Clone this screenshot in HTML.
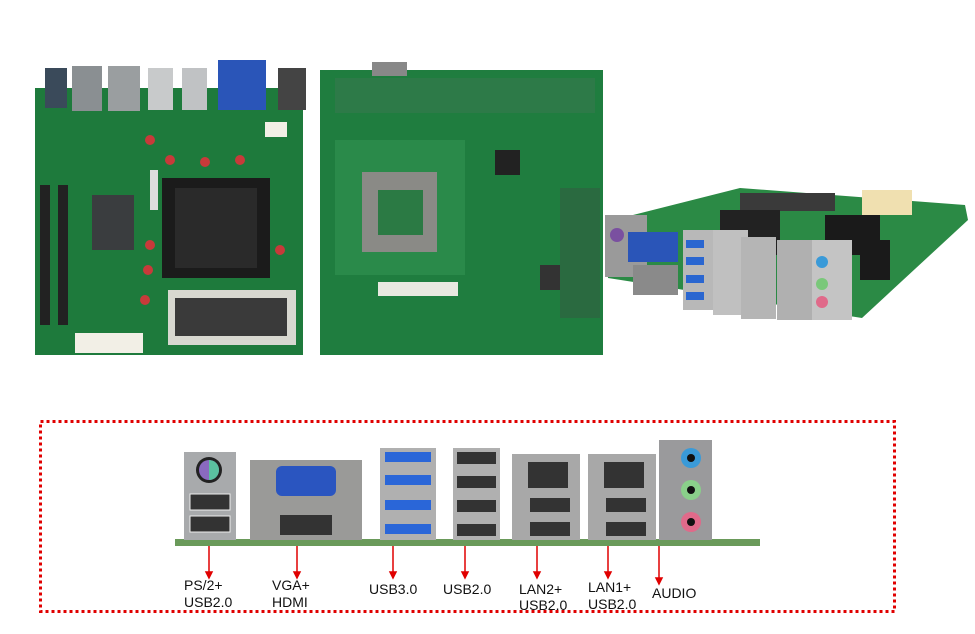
<!DOCTYPE html>
<html><head><meta charset="utf-8"><style>
body{margin:0;background:#fff;width:975px;height:634px;overflow:hidden;font-family:"Liberation Sans",sans-serif}
svg{position:absolute;left:0;top:0}
</style></head><body>
<svg width="975" height="634" viewBox="0 0 975 634" xmlns="http://www.w3.org/2000/svg" font-family="Liberation Sans, sans-serif">
<!-- Board 1 -->
<rect x="35" y="88" width="268" height="267" fill="#1e7a3c"/>
<rect x="45" y="68" width="22" height="40" fill="#3a4a5a"/>
<rect x="72" y="66" width="30" height="45" fill="#8a8f92"/>
<rect x="108" y="66" width="32" height="45" fill="#9a9ea0"/>
<rect x="148" y="68" width="25" height="42" fill="#c8cacb"/>
<rect x="182" y="68" width="25" height="42" fill="#c0c2c4"/>
<rect x="218" y="60" width="48" height="50" fill="#2a55b8"/>
<rect x="278" y="68" width="28" height="42" fill="#444"/>
<rect x="162" y="178" width="108" height="100" fill="#1b1b1b"/>
<rect x="175" y="188" width="82" height="80" fill="#2a2a2a"/>
<rect x="92" y="195" width="42" height="55" fill="#3a3d3f"/>
<rect x="168" y="290" width="128" height="55" fill="#d8d8d0"/>
<rect x="175" y="298" width="112" height="38" fill="#3a3a3a"/>
<rect x="75" y="333" width="68" height="20" fill="#f2efe6"/>
<rect x="40" y="185" width="10" height="140" fill="#222"/>
<rect x="58" y="185" width="10" height="140" fill="#222"/>
<rect x="150" y="170" width="8" height="40" fill="#ddd"/>
<g fill="#c83a3a"><circle cx="150" cy="140" r="5"/><circle cx="170" cy="160" r="5"/><circle cx="205" cy="162" r="5"/><circle cx="240" cy="160" r="5"/><circle cx="148" cy="270" r="5"/><circle cx="150" cy="245" r="5"/><circle cx="280" cy="250" r="5"/><circle cx="145" cy="300" r="5"/></g>
<rect x="265" y="122" width="22" height="15" fill="#f2efe6"/>
<!-- Board 2 -->
<rect x="320" y="70" width="283" height="285" fill="#1f7d3f"/>
<rect x="372" y="62" width="35" height="14" fill="#888"/>
<rect x="335" y="140" width="130" height="135" fill="#2a8a4a"/>
<rect x="362" y="172" width="75" height="80" fill="#8a8a86"/>
<rect x="378" y="190" width="45" height="45" fill="#2b7a44"/>
<rect x="378" y="282" width="80" height="14" fill="#e8e8e0"/>
<rect x="495" y="150" width="25" height="25" fill="#222"/>
<rect x="540" y="265" width="25" height="25" fill="#333"/>
<rect x="560" y="188" width="40" height="130" fill="#2a6a40"/>
<rect x="335" y="78" width="260" height="35" fill="#2d7a48"/>
<!-- Board 3 -->
<polygon points="605,222 740,188 965,205 968,220 862,318 608,278" fill="#2b8a45"/>
<rect x="740" y="193" width="95" height="18" fill="#3a3a3a"/>
<rect x="862" y="190" width="50" height="25" fill="#f0e0b0"/>
<rect x="825" y="215" width="55" height="40" fill="#1a1a1a"/>
<rect x="720" y="210" width="60" height="45" fill="#222"/>
<rect x="605" y="215" width="42" height="62" fill="#9a9a9a"/>
<circle cx="617" cy="235" r="7" fill="#7a50a0"/>
<rect x="628" y="232" width="50" height="30" fill="#2a55b8"/>
<rect x="633" y="265" width="45" height="30" fill="#8a8a8a"/>
<rect x="683" y="230" width="40" height="80" fill="#b8b8b8"/>
<g fill="#2a66d0"><rect x="686" y="240" width="18" height="8"/><rect x="686" y="257" width="18" height="8"/><rect x="686" y="275" width="18" height="8"/><rect x="686" y="292" width="18" height="8"/></g>
<rect x="713" y="230" width="35" height="85" fill="#c0c0c0"/>
<rect x="741" y="237" width="35" height="82" fill="#b5b5b5"/>
<rect x="777" y="240" width="35" height="80" fill="#b0b0b0"/>
<rect x="812" y="240" width="40" height="80" fill="#c4c4c4"/>
<circle cx="822" cy="262" r="6" fill="#3a9ad8"/><circle cx="822" cy="284" r="6" fill="#7ac87a"/><circle cx="822" cy="302" r="6" fill="#e06a8a"/>
<rect x="860" y="240" width="30" height="40" fill="#1a1a1a"/>
<!-- Bottom box -->
<rect x="40.5" y="421.5" width="854" height="190" fill="none" stroke="#e00000" stroke-width="3" stroke-dasharray="3,3"/>
<rect x="175" y="539" width="585" height="7" fill="#6a9a5a"/>
<!-- PS2 -->
<rect x="184" y="452" width="52" height="88" fill="#a8aaac"/>
<circle cx="209" cy="470" r="13" fill="#222"/><circle cx="209" cy="470" r="10" fill="#8a6ac0"/><path d="M209 460a10 10 0 0 1 0 20z" fill="#5ac0a0"/>
<rect x="190" y="494" width="40" height="16" fill="#333" stroke="#eee"/><rect x="190" y="516" width="40" height="16" fill="#333" stroke="#eee"/>
<!-- VGA/HDMI -->
<rect x="250" y="460" width="112" height="80" fill="#9a9a98"/>
<rect x="276" y="466" width="60" height="30" rx="6" fill="#2a55c0"/>
<rect x="280" y="515" width="52" height="20" fill="#333"/>
<!-- USB3 -->
<rect x="380" y="448" width="56" height="92" fill="#b0b0b0"/>
<g fill="#2a66d8"><rect x="385" y="452" width="46" height="10"/><rect x="385" y="475" width="46" height="10"/><rect x="385" y="500" width="46" height="10"/><rect x="385" y="524" width="46" height="10"/></g>
<!-- USB2 -->
<rect x="453" y="448" width="47" height="92" fill="#b0b0b0"/>
<g fill="#333"><rect x="457" y="452" width="39" height="12"/><rect x="457" y="476" width="39" height="12"/><rect x="457" y="500" width="39" height="12"/><rect x="457" y="524" width="39" height="12"/></g>
<!-- LAN2 -->
<rect x="512" y="454" width="68" height="86" fill="#a8a8a8"/>
<rect x="528" y="462" width="40" height="26" fill="#333"/>
<rect x="530" y="498" width="40" height="14" fill="#333"/><rect x="530" y="522" width="40" height="14" fill="#333"/>
<!-- LAN1 -->
<rect x="588" y="454" width="68" height="86" fill="#a8a8a8"/>
<rect x="604" y="462" width="40" height="26" fill="#333"/>
<rect x="606" y="498" width="40" height="14" fill="#333"/><rect x="606" y="522" width="40" height="14" fill="#333"/>
<!-- Audio -->
<rect x="659" y="440" width="53" height="100" fill="#9a9a9c"/>
<circle cx="691" cy="458" r="10" fill="#3a9ad8"/><circle cx="691" cy="458" r="4" fill="#111"/>
<circle cx="691" cy="490" r="10" fill="#8ad08a"/><circle cx="691" cy="490" r="4" fill="#111"/>
<circle cx="691" cy="522" r="10" fill="#e06a8a"/><circle cx="691" cy="522" r="4" fill="#111"/>
<!-- arrows -->
<g stroke="#e00000" stroke-width="1.5" fill="#e00000">
<line x1="209" y1="546" x2="209" y2="573"/><polygon points="206,572 212,572 209,578" />
<line x1="297" y1="546" x2="297" y2="573"/><polygon points="294,572 300,572 297,578"/>
<line x1="393" y1="546" x2="393" y2="573"/><polygon points="390,572 396,572 393,578"/>
<line x1="465" y1="546" x2="465" y2="573"/><polygon points="462,572 468,572 465,578"/>
<line x1="537" y1="546" x2="537" y2="573"/><polygon points="534,572 540,572 537,578"/>
<line x1="608" y1="546" x2="608" y2="573"/><polygon points="605,572 611,572 608,578"/>
<line x1="659" y1="546" x2="659" y2="580"/><polygon points="656,578 662,578 659,584"/>
</g>
<g font-size="14" fill="#111">
<text x="184" y="590">PS/2+</text><text x="184" y="607">USB2.0</text>
<text x="272" y="590">VGA+</text><text x="272" y="607">HDMI</text>
<text x="369" y="594">USB3.0</text>
<text x="443" y="594">USB2.0</text>
<text x="519" y="594">LAN2+</text><text x="519" y="610">USB2.0</text>
<text x="588" y="592">LAN1+</text><text x="588" y="609">USB2.0</text>
<text x="652" y="598">AUDIO</text>
</g>
</svg>
</body></html>
